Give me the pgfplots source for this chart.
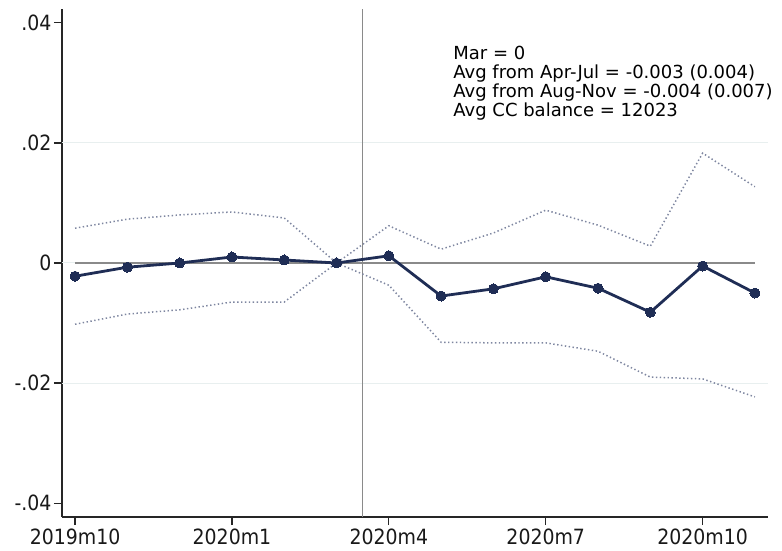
\documentclass[border=0pt]{standalone}
\usepackage{fontspec}
\setmainfont{DejaVu Sans}
\newfontfamily\condfont{DejaVu Sans Condensed}
\usepackage{pgfplots}
\pgfplotsset{compat=1.18}
\definecolor{navy}{HTML}{1F2D55}
\definecolor{cigray}{HTML}{7E86A0}
\definecolor{gridc}{HTML}{E8EFEF}
\definecolor{refgray}{HTML}{8A8A8A}
\begin{document}
\begin{tikzpicture}
\begin{axis}[
  scale only axis,
  width=706pt, height=508pt,
  xmin=-0.25, xmax=13.25,
  ymin=-0.0423, ymax=0.0423,
  axis x line*=bottom, axis y line*=left,
  axis line style={line width=1.3pt, draw=black!85},
  xtick={0,3,6,9,12},
  xticklabels={2019m10,2020m1,2020m4,2020m7,2020m10},
  ytick={0.04,0.02,0,-0.02,-0.04},
  yticklabels={.04,.02,0,-.02,-.04},
  tick align=outside,
  major tick length=8pt,
  tick style={line width=1.2pt, black!85},
  ticklabel style={font=\condfont\fontsize{21}{21}\selectfont, text=black!90},
  xticklabel style={yshift=0pt, text depth=0pt},
  yticklabel style={xshift=1pt},
  clip=false,
]
\draw[gridc, line width=1pt] (axis cs:-0.25,0.02) -- (axis cs:13.25,0.02);
\draw[gridc, line width=1pt] (axis cs:-0.25,-0.02) -- (axis cs:13.25,-0.02);
\draw[gridc, line width=1pt] (axis cs:-0.25,0) -- (axis cs:0,0);
\draw[refgray, line width=1.2pt] (axis cs:5.5,-0.0423) -- (axis cs:5.5,0.0423);
\addplot[refgray, line width=1.3pt, no marks] coordinates {(0,0) (13,0)};
% upper CI
\addplot[cigray, line width=1.5pt, dash pattern=on 1.4pt off 2.5pt, no marks] coordinates {
(0,0.0058) (1,0.0073) (2,0.0080) (3,0.0085) (4,0.0075) (5,0.0) (6,0.0062)
(7,0.0023) (8,0.0050) (9,0.0088) (10,0.0063) (11,0.0028) (12,0.0183) (13,0.0127)};
% lower CI
\addplot[cigray, line width=1.5pt, dash pattern=on 1.4pt off 2.5pt, no marks] coordinates {
(0,-0.0102) (1,-0.0085) (2,-0.0078) (3,-0.0065) (4,-0.0065) (5,0.0) (6,-0.0037)
(7,-0.0132) (8,-0.0133) (9,-0.0133) (10,-0.0147) (11,-0.0190) (12,-0.0193) (13,-0.0223)};
% estimate
\addplot[navy, line width=2.8pt, mark=*, mark size=5pt, mark options={fill=navy, draw=navy, line width=0pt}] coordinates {
(0,-0.0022) (1,-0.0007) (2,0.0000) (3,0.0010) (4,0.0005) (5,0.0) (6,0.0012)
(7,-0.0055) (8,-0.0043) (9,-0.0023) (10,-0.0042) (11,-0.0082) (12,-0.0005) (13,-0.0050)};
\node[anchor=north west, align=left, inner sep=0pt, font=\fontsize{18}{19}\selectfont, text=black]
  at (axis cs:7.23,0.0362) {Mar = 0\\Avg from Apr-Jul = -0.003 (0.004)\\Avg from Aug-Nov = -0.004 (0.007)\\Avg CC balance = 12023};
\end{axis}
\pgfresetboundingbox
\path[use as bounding box] ([shift={(-62pt,-33pt)}]current axis.south west) rectangle ++(782pt,550pt);
\end{tikzpicture}
\end{document}
